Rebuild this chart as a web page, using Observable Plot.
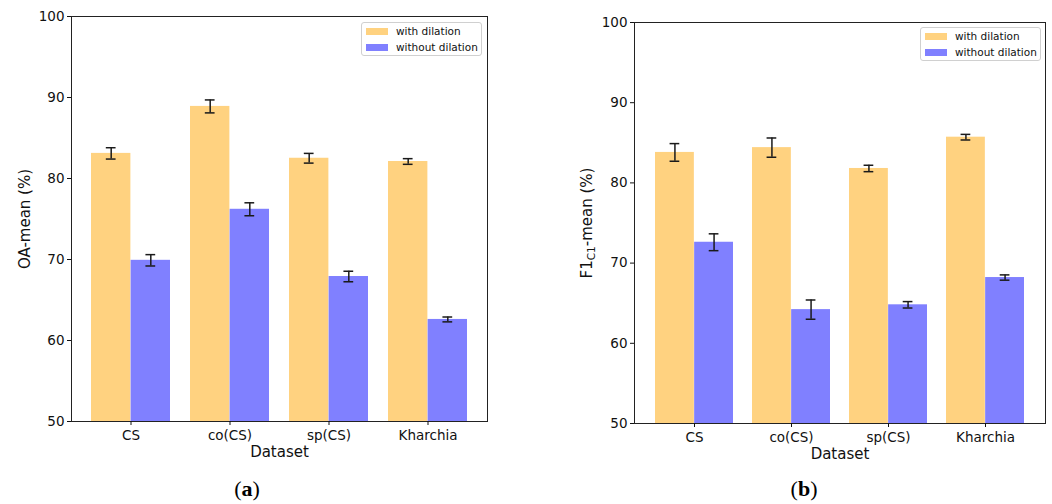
<!DOCTYPE html>
<html>
<head>
<meta charset="utf-8">
<script src="https://cdn.jsdelivr.net/npm/d3@7"></script>
<script src="https://cdn.jsdelivr.net/npm/@observablehq/plot@0.6"></script>
<style>
  body { margin: 0; background: white; }
  #wrap { position: relative; width: 1052px; height: 504px; background: white; overflow: hidden; }
  .panel { position: absolute; top: 0; }
  .legend { position: absolute; border: 1px solid #d0d0d0; border-radius: 3px; background: rgba(255,255,255,0.85);
            font-family: "DejaVu Sans", sans-serif; font-size: 10.5px; color: #111; box-sizing: border-box; padding: 0px 4px; white-space: nowrap; }
  .legend .row { display: flex; align-items: center; height: 16px; }
  .legend .sw { width: 22px; height: 7px; margin-right: 8px; flex: none; }
  .caption { position: absolute; font-family: "Liberation Serif", "DejaVu Serif", serif; font-size: 22px; color: #000; transform: translateX(-50%); }
  .caption b { font-weight: bold; }
</style>
</head>
<body>
<div id="wrap"></div>
<script>
const datasets = ["CS", "co(CS)", "sp(CS)", "Kharchia"];
const series = ["with dilation", "without dilation"];
const colors = ["#FFD280", "#8080FF"];
const yTicks = [50, 60, 70, 80, 90, 100];

const oaWith = [83.1, 88.9, 82.5, 82.1];
const oaWithErr = [0.7, 0.8, 0.6, 0.35];
const oaWithout = [69.9, 76.2, 67.9, 62.6];
const oaWithoutErr = [0.7, 0.8, 0.65, 0.3];

const f1With = [83.8, 84.4, 81.8, 85.7];
const f1WithErr = [1.1, 1.2, 0.4, 0.35];
const f1Without = [72.6, 64.2, 64.8, 68.2];
const f1WithoutErr = [1.05, 1.2, 0.4, 0.33];

function rowsOf(vals, errs, s) {
  return datasets.map((d, i) => ({dataset: d, series: s, value: vals[i], err: errs[i]}));
}

const PAD = 0.2;

function chart(withRows, withoutRows, opts) {
  const innerW = opts.width - opts.marginLeft - opts.marginRight;
  const bw = innerW * (1 - PAD) / (datasets.length - PAD + 2 * PAD);
  const half = bw / 2;
  const cap = 5;
  const err = (rows, side) => {
    const dx = side * half / 2;
    const il = side < 0 ? half / 2 - cap : half + half / 2 - cap;
    const ir = side < 0 ? half + half / 2 - cap : half / 2 - cap;
    const st = {stroke: "#1a1a1a", strokeWidth: 1.5};
    return [
      Plot.ruleX(rows, {x: "dataset", dx, y1: d => d.value - d.err, y2: d => d.value + d.err, ...st}),
      Plot.tickY(rows, {x: "dataset", y: d => d.value - d.err, insetLeft: il, insetRight: ir, ...st}),
      Plot.tickY(rows, {x: "dataset", y: d => d.value + d.err, insetLeft: il, insetRight: ir, ...st})
    ];
  };
  return Plot.plot({
    width: opts.width, height: opts.height,
    marginLeft: opts.marginLeft, marginRight: opts.marginRight,
    marginTop: opts.marginTop, marginBottom: opts.marginBottom,
    style: {fontFamily: "DejaVu Sans, sans-serif", fontSize: "13.5px", color: "#111", background: "white", overflow: "visible"},
    x: {domain: datasets, paddingInner: PAD, paddingOuter: PAD},
    y: {domain: [50, 100]},
    color: {domain: series, range: colors},
    marks: [
      Plot.barY(withRows, {x: "dataset", y: "value", fill: "series", insetRight: half, clip: true}),
      Plot.barY(withoutRows, {x: "dataset", y: "value", fill: "series", insetLeft: half, clip: true}),
      ...err(withRows, -1),
      ...err(withoutRows, 1),
      Plot.frame({stroke: "#222", strokeWidth: 1}),
      Plot.axisY({ticks: yTicks, tickSize: 4, tickPadding: 3, label: opts.ylabel, labelAnchor: "center", labelArrow: "none", labelOffset: opts.yLabelOffset}),
      Plot.axisX({tickSize: 4, tickPadding: 5, label: "Dataset", labelAnchor: "center", labelArrow: "none", labelOffset: 35})
    ]
  });
}

function fixLabels(svg, ylabelParts) {
  svg.querySelectorAll('g[aria-label="x-axis label"] text').forEach(t => {
    t.textContent = "Dataset";
    t.setAttribute("font-size", "15px");
  });
  svg.querySelectorAll('g[aria-label="y-axis label"] text').forEach(t => {
    t.setAttribute("font-size", "15px");
    if (ylabelParts) {
      t.textContent = "";
      const ns = "http://www.w3.org/2000/svg";
      const a = document.createElementNS(ns, "tspan"); a.textContent = ylabelParts[0];
      const b = document.createElementNS(ns, "tspan"); b.textContent = ylabelParts[1];
      b.setAttribute("font-size", "10.5px"); b.setAttribute("dy", "3");
      const c = document.createElementNS(ns, "tspan"); c.textContent = ylabelParts[2];
      c.setAttribute("dy", "-3");
      t.append(a, b, c);
    }
  });
}

function legend(left, top) {
  const L = document.createElement("div");
  L.className = "legend";
  L.style.left = left + "px"; L.style.top = top + "px";
  L.style.width = "121px"; L.style.height = "34px";
  series.forEach((s, i) => {
    const r = document.createElement("div"); r.className = "row";
    const sw = document.createElement("div"); sw.className = "sw"; sw.style.background = colors[i];
    const tx = document.createElement("span"); tx.textContent = s;
    r.append(sw, tx); L.append(r);
  });
  return L;
}

const wrap = document.getElementById("wrap");

const a = chart(rowsOf(oaWith, oaWithErr, series[0]), rowsOf(oaWithout, oaWithoutErr, series[1]),
  {width: 500, height: 470, marginLeft: 71, marginRight: 13, marginTop: 16, marginBottom: 49, ylabel: "OA-mean (%)", yLabelOffset: 52});
fixLabels(a, null);
const pa = document.createElement("div"); pa.className = "panel"; pa.style.left = "0px"; pa.append(a);
wrap.append(pa);

const b = chart(rowsOf(f1With, f1WithErr, series[0]), rowsOf(f1Without, f1WithoutErr, series[1]),
  {width: 492, height: 470, marginLeft: 74, marginRight: 7, marginTop: 22, marginBottom: 47, ylabel: "F1C1-mean (%)", yLabelOffset: 53});
fixLabels(b, ["F1", "C1", "-mean (%)"]);
const pb = document.createElement("div"); pb.className = "panel"; pb.style.left = "560px"; pb.append(b);
wrap.append(pb);

wrap.append(legend(361, 22));
wrap.append(legend(920, 27));

const ca = document.createElement("div"); ca.className = "caption"; ca.style.left = "247px"; ca.style.top = "476px";
ca.innerHTML = "(<b>a</b>)";
const cb = document.createElement("div"); cb.className = "caption"; cb.style.left = "804px"; cb.style.top = "476px";
cb.innerHTML = "(<b>b</b>)";
wrap.append(ca, cb);
</script>
</body>
</html>
